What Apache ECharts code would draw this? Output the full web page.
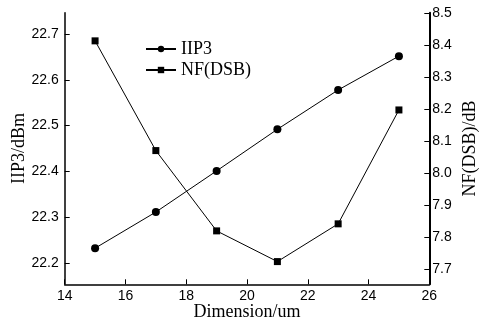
<!DOCTYPE html>
<html><head><meta charset="utf-8">
<script src="https://cdn.jsdelivr.net/npm/echarts@6/dist/echarts.min.js"></script>
<style>html,body{margin:0;padding:0;background:#fff}#c{width:480px;height:323px}</style>
</head><body><div id="c"></div>
<script>
var dimension = [15, 17, 19, 21, 23, 25];
var iip3 = [22.232, 22.311, 22.401, 22.492, 22.578, 22.652];
var nfDsb = [8.414, 8.071, 7.820, 7.724, 7.842, 8.198];
var leftTicks = [22.2, 22.3, 22.4, 22.5, 22.6, 22.7];
var rightTicks = [7.7, 7.8, 7.9, 8.0, 8.1, 8.2, 8.3, 8.4, 8.5];
var xTicks = [14, 16, 18, 20, 22, 24, 26];

function pairs(xs, ys){ return xs.map(function(x,i){return [x, ys[i]];}); }
var labelFont = {fontFamily:'Liberation Sans, Arial', fontSize:14, color:'#000'};
var nameFont = {fontFamily:'Liberation Serif, Times New Roman', fontSize:18, fontWeight:'normal', color:'#000'};
var chart = echarts.init(document.getElementById('c'));
chart.setOption({
  animation:false,
  backgroundColor:'#fff',
  grid:{left:64.7, right:50.7, top:12.7, bottom:38.7, containLabel:false, outerBoundsMode:'none'},
  legend:{
    orient:'vertical', left:140, top:35, itemWidth:30, itemHeight:8, itemGap:3,
    textStyle:{fontFamily:'Liberation Serif, Times New Roman', fontSize:18, color:'#000'},
    data:['IIP3','NF(DSB)']
  },
  xAxis:{
    type:'value', min:14, max:26, interval:2,
    name:'Dimension/um', nameLocation:'middle', nameGap:19, nameMoveOverlap:false, nameTextStyle:nameFont,
    axisLine:{lineStyle:{color:'#000', width:1.5}},
    axisTick:{inside:true, length:5, lineStyle:{color:'#000'}, customValues:xTicks},
    axisLabel:Object.assign({margin:5, customValues:xTicks}, labelFont),
    splitLine:{show:false}
  },
  yAxis:[{
    type:'value', min:22.153, max:22.747, position:'left',
    name:'IIP3/dBm', nameLocation:'middle', nameGap:36, nameMoveOverlap:false, nameRotate:90, nameTextStyle:nameFont,
    axisLine:{show:true, lineStyle:{color:'#000', width:1.5}},
    axisTick:{show:true, inside:true, length:5, lineStyle:{color:'#000'}, customValues:leftTicks},
    axisLabel:Object.assign({margin:6, customValues:leftTicks, formatter:function(v){return v.toFixed(1);}}, labelFont),
    splitLine:{show:false}
  },{
    type:'value', min:7.653, max:8.502, position:'right',
    name:'NF(DSB)/dB', nameLocation:'middle', nameGap:32, nameMoveOverlap:false, nameRotate:90, nameTextStyle:nameFont,
    axisLine:{show:true, lineStyle:{color:'#000', width:2}},
    axisTick:{show:true, inside:true, length:5, lineStyle:{color:'#000'}, customValues:rightTicks},
    axisLabel:Object.assign({margin:3, customValues:rightTicks, formatter:function(v){return v.toFixed(1);}}, labelFont),
    splitLine:{show:false}
  }],
  series:[{
    name:'IIP3', type:'line', yAxisIndex:0, data:pairs(dimension, iip3),
    symbol:'circle', symbolSize:8, lineStyle:{color:'#000', width:1}, itemStyle:{color:'#000'}
  },{
    name:'NF(DSB)', type:'line', yAxisIndex:1, data:pairs(dimension, nfDsb),
    symbol:'rect', symbolSize:7, lineStyle:{color:'#000', width:1}, itemStyle:{color:'#000'}
  }]
});
</script></body></html>
